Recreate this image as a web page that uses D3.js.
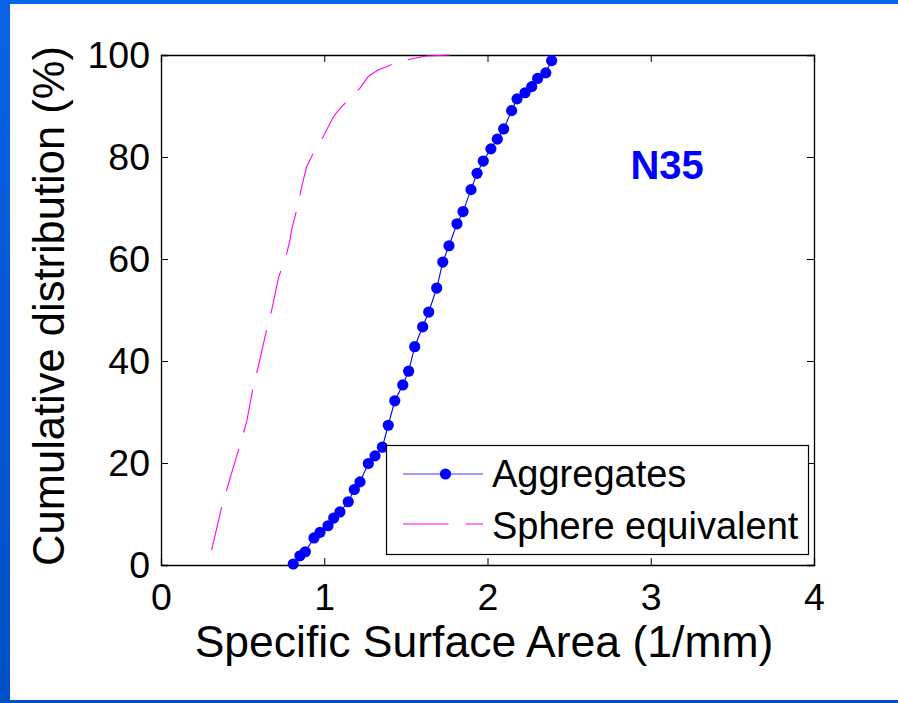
<!DOCTYPE html>
<html>
<head>
<meta charset="utf-8">
<script src="https://cdn.jsdelivr.net/npm/d3@7"></script>
<style>
  html, body { margin: 0; padding: 0; background: #fff; }
  svg { display: block; }
  text { font-family: "Liberation Sans", Arial, sans-serif; fill: #000; }
</style>
</head>
<body>
<svg id="chart" width="898" height="703"></svg>
<script>
// ---- data ----
const xTicks = [0, 1, 2, 3, 4];
const yTicks = [0, 20, 40, 60, 80, 100];

const aggX = [0.81, 0.851, 0.884, 0.937, 0.974, 1.023, 1.058, 1.096, 1.147, 1.184, 1.219, 1.270, 1.311, 1.356,
  1.392, 1.432, 1.481, 1.517, 1.554, 1.603, 1.640, 1.689, 1.726, 1.764, 1.813, 1.850, 1.899, 1.936, 1.974,
  2.021, 2.060, 2.099, 2.148, 2.181, 2.230, 2.271, 2.307, 2.357, 2.393];
const aggY = [0.2, 1.8, 2.6, 5.3, 6.4, 7.7, 9.2, 10.4, 12.4, 14.8, 16.3, 19.9, 21.4, 23.1,
  27.4, 32.2, 35.3, 38.0, 42.8, 46.7, 49.6, 54.3, 59.4, 62.6, 66.9, 69.3, 73.6, 76.8, 79.2,
  81.6, 83.5, 85.5, 89.1, 91.4, 92.6, 93.8, 95.4, 96.5, 98.9];

const sphX = [0.31, 0.372, 0.423, 0.48, 0.525, 0.565, 0.596, 0.651, 0.678, 0.719, 0.749, 0.77, 0.79, 0.80,
  0.831, 0.862, 0.892, 0.943, 0.994, 1.056, 1.096, 1.147, 1.219, 1.27, 1.331, 1.382, 1.444, 1.546, 1.627, 1.77];
const sphY = [2.9, 11.4, 17.0, 23.1, 28.1, 35.0, 38.9, 46.7, 50.0, 56.2, 59.2, 61.1, 63.7, 65.7,
  69.6, 74.2, 78.1, 81.4, 84.0, 87.9, 89.5, 91.2, 93.5, 95.8, 97.1, 97.7, 98.6, 99.3, 99.8, 100];

const seriesNames = ["Aggregates", "Sphere equivalent"];
const xTitle = "Specific Surface Area (1/mm)";
const yTitle = "Cumulative distribution (%)";
const annotation = "N35";

// ---- layout ----
const svg = d3.select("#chart");
const W = 898, H = 703;
const mLeft = 161, mRight = 814, mTop = 55, mBottom = 565;

// slide background frame
const defs = svg.append("defs");
const grad = defs.append("linearGradient").attr("id", "lg").attr("x1", 0).attr("y1", 0).attr("x2", 0).attr("y2", 1);
grad.append("stop").attr("offset", "0%").attr("stop-color", "#0a62e6");
grad.append("stop").attr("offset", "100%").attr("stop-color", "#004fc4");
svg.append("rect").attr("x", 0).attr("y", 0).attr("width", W).attr("height", H).attr("fill", "url(#lg)");
svg.append("rect").attr("x", 0).attr("y", 0).attr("width", W).attr("height", 4).attr("fill", "#0566ea");
svg.append("rect").attr("x", 10).attr("y", 4).attr("width", W - 10).attr("height", 696).attr("fill", "#ffffff");

const x = d3.scaleLinear().domain([0, 4]).range([mLeft, mRight]);
const y = d3.scaleLinear().domain([0, 100]).range([mBottom, mTop]);

const fontTick = 37.5;

// axes
const gB = svg.append("g").attr("transform", `translate(0,${mBottom})`)
  .call(d3.axisBottom(x).tickValues(xTicks).tickSize(-7).tickPadding(18).tickFormat(d3.format("d")));
const gT = svg.append("g").attr("transform", `translate(0,${mTop})`)
  .call(d3.axisTop(x).tickValues(xTicks).tickSize(-7).tickFormat(""));
const gL = svg.append("g").attr("transform", `translate(${mLeft},0)`)
  .call(d3.axisLeft(y).tickValues(yTicks).tickSize(-7).tickPadding(11).tickFormat(d3.format("d")));
const gR = svg.append("g").attr("transform", `translate(${mRight},0)`)
  .call(d3.axisRight(y).tickValues(yTicks).tickSize(-7).tickFormat(""));
[gB, gT, gL, gR].forEach(g => {
  g.select(".domain").attr("stroke", "#000").attr("stroke-width", 1.3);
  g.selectAll(".tick line").attr("stroke", "#000").attr("stroke-width", 1);
  g.selectAll(".tick text").attr("font-size", fontTick)
    .attr("font-family", '"Liberation Sans", Arial, sans-serif').attr("fill", "#000");
});

// clip to plot
defs.append("clipPath").attr("id", "clip").append("rect")
  .attr("x", mLeft).attr("y", mTop - 8).attr("width", mRight - mLeft).attr("height", mBottom - mTop + 16);

const aggData = aggX.map((v, i) => [v, aggY[i]]);
const sphData = sphX.map((v, i) => [v, sphY[i]]);
const line = d3.line().x(d => x(d[0])).y(d => y(d[1]));

const plot = svg.append("g").attr("clip-path", "url(#clip)");
plot.append("path").datum(sphData).attr("d", line)
  .attr("fill", "none").attr("stroke", "#ff00ff").attr("stroke-width", 1.1)
  .attr("stroke-dasharray", "44,17");
plot.append("path").datum(aggData).attr("d", line)
  .attr("fill", "none").attr("stroke", "#0000ff").attr("stroke-width", 1.1);
plot.selectAll("circle.agg").data(aggData).enter().append("circle")
  .attr("class", "agg").attr("cx", d => x(d[0])).attr("cy", d => y(d[1])).attr("r", 5.6)
  .attr("fill", "#0000ff");

// annotation
svg.append("text").attr("x", x(3.1)).attr("y", y(75.6)).attr("text-anchor", "middle")
  .attr("font-size", 40).attr("font-weight", "bold").style("fill", "#0000ff").text(annotation);

// legend
const lg = svg.append("g");
lg.append("rect").attr("x", 386.5).attr("y", 445.5).attr("width", 422).attr("height", 109)
  .attr("fill", "#fff").attr("stroke", "#000").attr("stroke-width", 1.2);
lg.append("line").attr("x1", 403).attr("x2", 483).attr("y1", 474).attr("y2", 474)
  .attr("stroke", "#3a3aff").attr("stroke-width", 1.1);
lg.append("circle").attr("cx", 445.5).attr("cy", 474).attr("r", 5.6).attr("fill", "#0000ff");
lg.append("line").attr("x1", 403).attr("x2", 483).attr("y1", 524).attr("y2", 524)
  .attr("stroke", "#ff00ff").attr("stroke-width", 1.1).attr("stroke-dasharray", "45.5,17");
lg.append("text").attr("x", 492).attr("y", 487).attr("font-size", 38).text(seriesNames[0]);
lg.append("text").attr("x", 492).attr("y", 539).attr("font-size", 38).text(seriesNames[1]);

// axis titles
svg.append("text").attr("x", 484).attr("y", 657).attr("text-anchor", "middle")
  .attr("font-size", 44.5).text(xTitle);
svg.append("text").attr("transform", "translate(64,306) rotate(-90)").attr("text-anchor", "middle")
  .attr("font-size", 43.5).text(yTitle);
</script>
</body>
</html>
